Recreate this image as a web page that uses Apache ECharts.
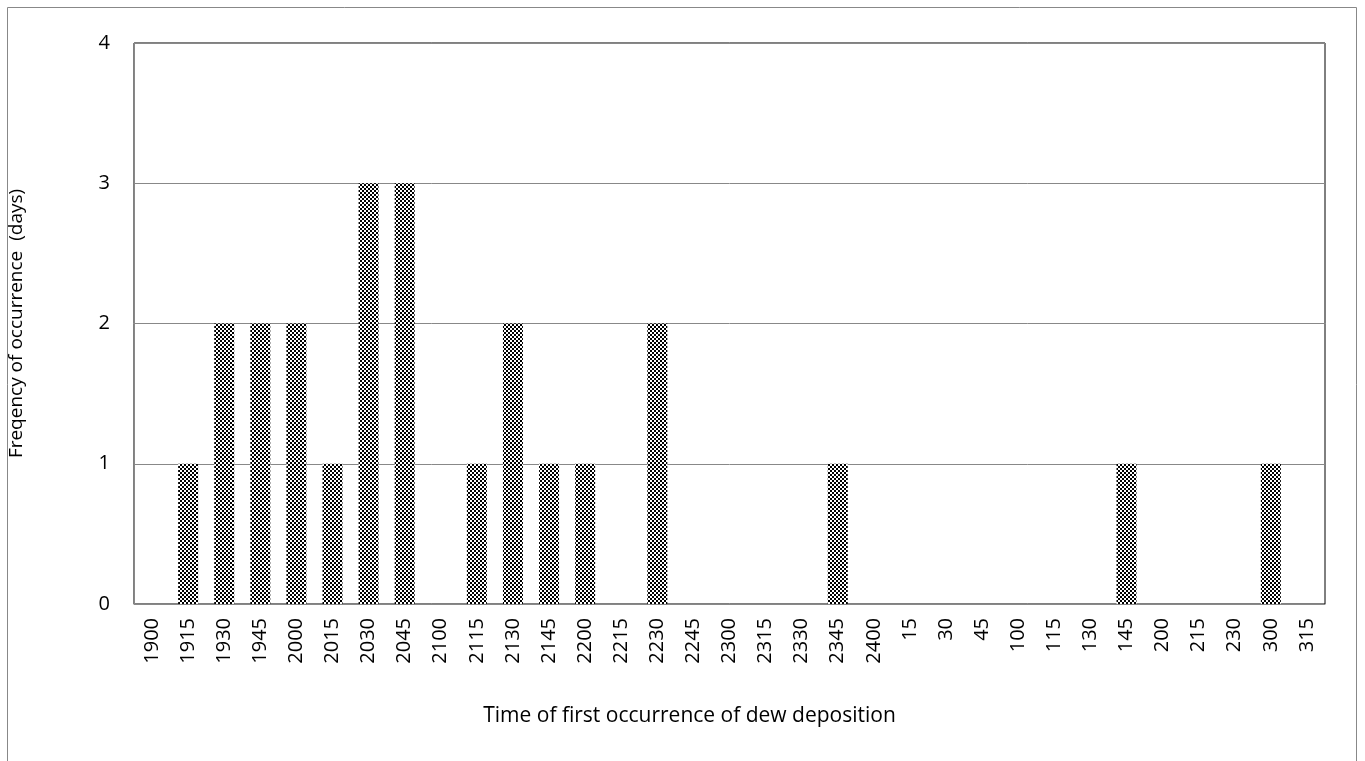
<!DOCTYPE html>
<html>
<head>
<meta charset="utf-8">
<script src="https://cdn.jsdelivr.net/npm/echarts@6/dist/echarts.min.js"></script>
<style>
  html, body { margin: 0; padding: 0; background: #fff; }
  #chart { width: 1365px; height: 761px; }
</style>
</head>
<body>
<div id="chart"></div>
<script>
// time of first dew deposition (hhmm)
var times = ['1900', '1915', '1930', '1945', '2000', '2015', '2030', '2045', '2100', '2115',
  '2130', '2145', '2200', '2215', '2230', '2245', '2300', '2315', '2330', '2345', '2400',
  '15', '30', '45', '100', '115', '130', '145', '200', '215', '230', '300', '315'];
var days = [0, 1, 2, 2, 2, 1, 3, 3, 0, 1,
  2, 1, 1, 0, 2, 0, 0, 0, 0, 1, 0,
  0, 0, 0, 0, 0, 0, 1, 0, 0, 0, 1, 0];
var yTicks = [0, 1, 2, 3, 4];

// checkered fill like the excel pattern
var pat = document.createElement('canvas');
pat.width = 4; pat.height = 4;
var ctx = pat.getContext('2d');
ctx.fillStyle = '#fff';
ctx.fillRect(0, 0, 4, 4);
ctx.fillStyle = '#000';
ctx.fillRect(0, 0, 2, 2);
ctx.fillRect(2, 2, 2, 2);

var font = 'Open Sans';
var chart = echarts.init(document.getElementById('chart'));
chart.setOption({
  animation: false,
  textStyle: { fontFamily: font },
  graphic: [{
    type: 'rect',
    shape: { x: 7.5, y: 7.5, width: 1349, height: 760 },
    style: { fill: 'none', stroke: '#888', lineWidth: 1 },
    silent: true
  }],
  grid: {
    left: 134, right: 40, top: 43, bottom: 157,
    outerBoundsMode: 'none',
    containLabel: false,
    show: true, borderColor: '#000', borderWidth: 1
  },
  xAxis: {
    type: 'category',
    data: times,
    name: 'Time of first occurrence of dew deposition',
    nameLocation: 'middle',
    nameGap: 102,
    nameTextStyle: { fontSize: 21, color: '#000', fontFamily: font, padding: [0, 80, 0, 0] },
    axisLine: { lineStyle: { color: '#888', width: 1 } },
    axisTick: { show: false },
    axisLabel: { rotate: 90, fontSize: 20, color: '#000', margin: 14, interval: 0, fontFamily: font }
  },
  yAxis: {
    type: 'value',
    min: yTicks[0], max: yTicks[yTicks.length - 1], interval: 1,
    name: 'Freqency of occurrence  (days)',
    nameLocation: 'middle',
    nameGap: 108,
    nameRotate: 90,
    nameTextStyle: { fontSize: 19, color: '#000', fontFamily: font },
    axisLine: { show: true, lineStyle: { color: '#888', width: 1 } },
    axisTick: { show: false },
    axisLabel: { fontSize: 20, color: '#000', margin: 24, fontFamily: font },
    splitLine: { lineStyle: { color: '#888', width: 1 } }
  },
  series: [{
    type: 'bar',
    data: days,
    barWidth: 20,
    itemStyle: { color: { image: pat, repeat: 'repeat' } }
  }]
});
</script>
</body>
</html>
